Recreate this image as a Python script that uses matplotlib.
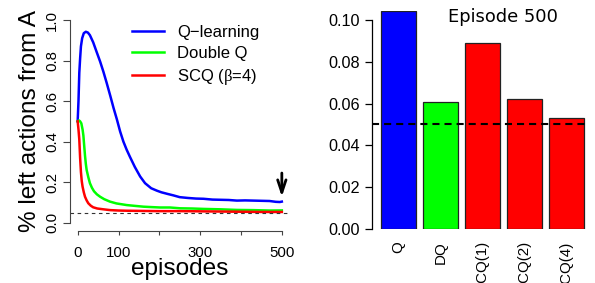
import matplotlib
matplotlib.use('Agg')
import matplotlib.pyplot as plt
import numpy as np

plt.rcParams['font.family'] = ['Liberation Sans', 'DejaVu Sans']
plt.rcParams['mathtext.fontset'] = 'custom'
plt.rcParams['mathtext.rm'] = 'Liberation Serif'

# ---------------- data ----------------
q_episodes = [0, 2, 4, 6, 8, 11, 15, 20, 25, 30, 38, 46, 55, 63, 71, 80, 88, 96,
              104, 112, 120, 128, 140, 153, 165, 180, 194, 205, 220, 234, 250,
              270, 290, 308, 330, 350, 370, 390, 410, 430, 450, 470, 485, 495, 500]
q_values = [0.50, 0.60, 0.74, 0.81, 0.87, 0.91, 0.935, 0.942, 0.938, 0.925, 0.89,
            0.845, 0.795, 0.745, 0.69, 0.625, 0.565, 0.51, 0.45, 0.40, 0.36, 0.325,
            0.275, 0.228, 0.195, 0.17, 0.158, 0.150, 0.142, 0.135, 0.126, 0.122,
            0.119, 0.118, 0.114, 0.113, 0.112, 0.109, 0.110, 0.109, 0.108, 0.107,
            0.103, 0.102, 0.104]

dq_episodes = [0, 3, 6, 9, 12, 14, 16, 18, 20, 22, 26, 30, 35, 40, 47, 55, 65, 79,
               95, 120, 140, 161, 180, 202, 226, 251, 280, 308, 350, 390, 430, 470, 500]
dq_values = [0.50, 0.505, 0.50, 0.49, 0.46, 0.43, 0.38, 0.33, 0.29, 0.26, 0.225,
             0.195, 0.172, 0.155, 0.14, 0.128, 0.116, 0.104, 0.095, 0.087, 0.083,
             0.079, 0.077, 0.075, 0.075, 0.071, 0.070, 0.068, 0.066, 0.063, 0.062,
             0.060, 0.0606]

scq_episodes = [0, 2, 4, 6, 8, 10, 12, 15, 18, 22, 26, 32, 38, 48, 63, 80, 100,
                120, 160, 200, 250, 300, 350, 400, 450, 500]
scq_values = [0.50, 0.46, 0.41, 0.32, 0.25, 0.205, 0.178, 0.15, 0.128, 0.11, 0.096,
              0.084, 0.076, 0.070, 0.066, 0.062, 0.060, 0.059, 0.058, 0.057, 0.057,
              0.056, 0.055, 0.054, 0.053, 0.0529]

series_labels = ['Q\u2212learning', 'Double Q', 'SCQ ($\\mathrm{\u03b2}$=4)']
series_colors = ['#0000FF', '#00FF00', '#FF0000']

chance_level = 0.05
arrow_episode = 500
arrow_from = 0.245
arrow_to = 0.128

x_ticks = [0, 100, 300, 500]
x_ticklabels = ['0', '100', '300', '500']
x_minor_ticks = [200, 400]
y_ticks_left = [0.0, 0.2, 0.4, 0.6, 0.8, 1.0]

bar_labels = ['Q', 'DQ', 'SCQ(1)', 'SCQ(2)', 'SCQ(4)']
bar_values = [0.1042, 0.0606, 0.0890, 0.0621, 0.0529]
bar_colors = ['#0000FF', '#00FF00', '#FF0000', '#FF0000', '#FF0000']
y_ticks_right = [0.00, 0.02, 0.04, 0.06, 0.08, 0.10]
bar_title = 'Episode 500'

# ---------------- figure ----------------
W, H = 595, 283
fig = plt.figure(figsize=(W / 100, H / 100), dpi=100)

axis_col = '#444444'

# ---- left panel ----
ax1 = fig.add_axes([69.5 / W, (H - 230.8) / H, (290 - 69.5) / W, (230.8 - 11.9) / H])
ax1.plot(q_episodes, q_values, color=series_colors[0], lw=1.8, label=series_labels[0])
ax1.plot(dq_episodes, dq_values, color=series_colors[1], lw=1.8, label=series_labels[1])
ax1.plot(scq_episodes, scq_values, color=series_colors[2], lw=1.8, label=series_labels[2])
ax1.axhline(chance_level, color='#333333', lw=0.8, ls=(0, (3.2, 3.2)))
ax1.annotate('', xy=(arrow_episode, arrow_to), xytext=(arrow_episode, arrow_from),
             arrowprops=dict(arrowstyle='->,head_length=0.9,head_width=0.3',
                             lw=2, color='black', shrinkA=0, shrinkB=0))
ax1.set_xlim(-20, 520)
ax1.set_ylim(-0.04, 1.04)
for s in ['top', 'right']:
    ax1.spines[s].set_visible(False)
ax1.spines['left'].set_bounds(0, 1)
ax1.spines['bottom'].set_bounds(0, 500)
for s in ['left', 'bottom']:
    ax1.spines[s].set_color(axis_col)
    ax1.spines[s].set_linewidth(0.8)
ax1.set_xticks(x_ticks)
ax1.set_xticklabels(x_ticklabels)
ax1.set_xticks(x_minor_ticks, minor=True)
ax1.set_yticks(y_ticks_left)
ax1.set_yticklabels([f'{v:.1f}' for v in y_ticks_left], rotation=90, va='center')
ax1.tick_params(axis='x', which='both', length=3, width=0.8, color=axis_col, pad=7.8,
                labelsize=10.8)
ax1.tick_params(axis='y', length=5, width=0.8, color=axis_col, pad=2.5, labelsize=10.8)
ax1.set_xlabel('episodes', fontsize=17.6, labelpad=-1)
ax1.set_ylabel('% left actions from A', fontsize=17.6, labelpad=3)
ax1.legend(loc='upper left', bbox_to_anchor=((132 - 69.5) / 220.5, 1 - (25 - 11.9) / 218.9),
           frameon=False, fontsize=12, handlelength=1.9, handletextpad=0.8,
           labelspacing=0.35, borderpad=0, borderaxespad=0)

# ---- right panel ----
ax2 = fig.add_axes([372.3 / W, (H - 228.7) / H, (586.7 - 372.3) / W, (228.7 - 11.3) / H])
positions = 0.7 + 1.2 * np.arange(len(bar_values))
ax2.bar(positions, bar_values, width=1.0, color=bar_colors, edgecolor='#222222', lw=0.9)
ax2.axhline(chance_level, color='black', lw=1.5, ls=(0, (3.4, 2.4)))
ax2.set_xlim(-0.04, 6.08)
ax2.set_ylim(0, 0.1042)
for s in ['top', 'right', 'bottom']:
    ax2.spines[s].set_visible(False)
ax2.spines['left'].set_bounds(0, 0.10)
ax2.spines['left'].set_linewidth(0.9)
ax2.set_yticks(y_ticks_right)
ax2.set_yticklabels([f'{v:.2f}' for v in y_ticks_right])
ax2.tick_params(axis='y', length=5, width=0.9, pad=4, labelsize=11.7)
ax2.set_xticks(positions)
ax2.set_xticklabels(bar_labels, rotation=90, va='top', ha='center')
ax2.tick_params(axis='x', length=0, pad=9.0, labelsize=10.9)
ax2.text((503 - 372.3) / 214.4, (228.7 - 21.7) / 217.4, bar_title, transform=ax2.transAxes,
         ha='center', va='baseline', fontsize=12.9, family='DejaVu Sans')

fig.savefig('out.png', dpi=100)
